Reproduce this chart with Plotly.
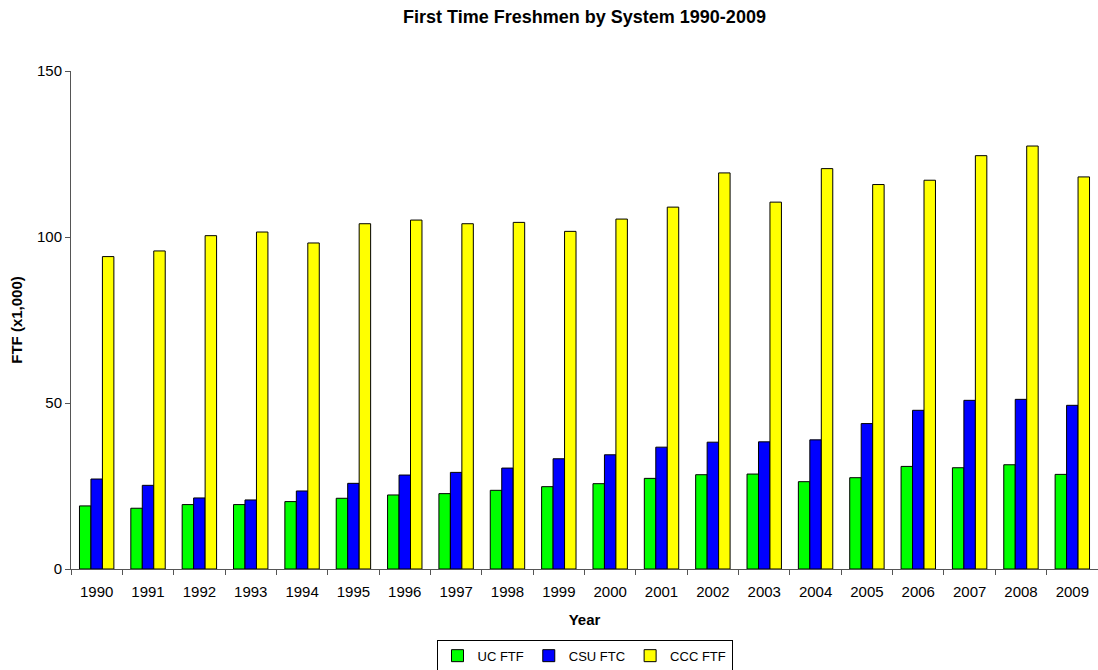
import plotly.graph_objects as go

years = [str(y) for y in range(1990, 2010)]
uc_ftf = [19.0, 18.3, 19.4, 19.4, 20.3, 21.3, 22.3, 22.7, 23.7, 24.8,
          25.7, 27.3, 28.4, 28.6, 26.3, 27.5, 30.9, 30.5, 31.4, 28.5]
csu_ftc = [27.1, 25.2, 21.4, 20.8, 23.5, 25.8, 28.3, 29.1, 30.4, 33.2,
           34.4, 36.7, 38.2, 38.3, 38.9, 43.8, 47.8, 50.8, 51.1, 49.3]
ccc_ftf = [94.1, 95.8, 100.4, 101.5, 98.2, 104.0, 105.1, 104.0, 104.4, 101.7,
           105.4, 109.0, 119.3, 110.5, 120.6, 115.8, 117.1, 124.5, 127.4, 118.1]

series_names = ["UC FTF", "CSU FTC", "CCC FTF"]
series_colors = ["#00FF00", "#0000FF", "#FFFF00"]
series_values = [uc_ftf, csu_ftc, ccc_ftf]

FONT = "Liberation Sans, Arial, sans-serif"

fig = go.Figure()
for name, color, vals in zip(series_names, series_colors, series_values):
    fig.add_trace(go.Bar(
        x=years, y=vals, name=name,
        marker=dict(color=color, line=dict(color="#000000", width=1)),
    ))

fig.update_layout(
    width=1098, height=670,
    margin=dict(l=71, r=0, t=71, b=101, autoexpand=False),
    paper_bgcolor="white", plot_bgcolor="white",
    barmode="group", bargap=0.33, bargroupgap=0,
    font=dict(family=FONT, size=15, color="#000000"),
    title=dict(text="<b>First Time Freshmen by System 1990-2009</b>",
               x=0.5, xref="paper", xanchor="center",
               y=1 - 10 / 670, yref="container", yanchor="top",
               font=dict(family=FONT, size=18, color="#000000")),
    showlegend=True,
    legend=dict(orientation="h", x=0.5, xanchor="center",
                y=-0.142, yanchor="top",
                bordercolor="#000000", borderwidth=1,
                font=dict(family=FONT, size=13, color="#000000"),
                itemwidth=30, traceorder="normal"),
)

fig.update_xaxes(
    type="category", tickson="boundaries",
    ticks="outside", ticklen=5, tickcolor="#555555",
    ticklabelstandoff=9,
    showline=True, linecolor="#555555", linewidth=1,
    showgrid=False, zeroline=False, automargin=True,
    tickfont=dict(family=FONT, size=15, color="#000000"),
    title=dict(text="<b>Year</b>", standoff=15,
               font=dict(family=FONT, size=15, color="#000000")),
)
fig.update_yaxes(
    range=[0, 150], dtick=50, tick0=0,
    ticks="outside", ticklen=5, tickcolor="#555555",
    showline=True, linecolor="#555555", linewidth=1,
    showgrid=False, zeroline=False, automargin=True,
    tickfont=dict(family=FONT, size=15, color="#000000"),
    title=dict(text="<b>FTF (x1,000)</b>", standoff=10,
               font=dict(family=FONT, size=15, color="#000000")),
)

fig.write_html("out.html",
               config={"displayModeBar": False},
               post_script="document.body.style.margin='0';document.body.style.overflow='hidden';")
